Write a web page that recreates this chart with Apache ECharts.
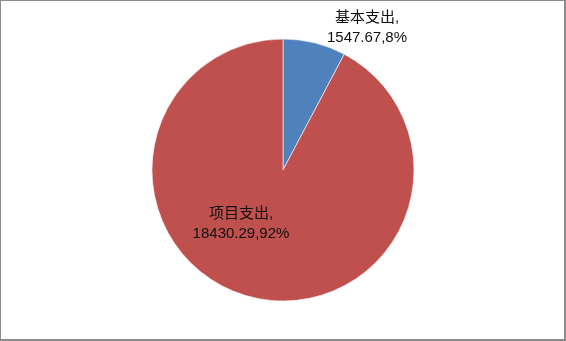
<!DOCTYPE html>
<html><head><meta charset="utf-8">
<script src="https://cdn.jsdelivr.net/npm/echarts@6/dist/echarts.min.js"></script>
<style>
html,body{margin:0;padding:0;background:#fff;}
#c{position:absolute;left:0;top:0;width:563px;height:338px;border-left:1px solid #8c8c8c;border-top:1px solid #8c8c8c;border-right:2px solid #8c8c8c;border-bottom:2px solid #8c8c8c;}
</style></head><body>
<div id="c"></div>
<script>
const categories = ['基本支出', '项目支出'];
const values = [1547.67, 18430.29];
const colors = ['#4F81BD', '#C0504D'];
const labelPos = [[366, 27], [240, 223]];

const chart = echarts.init(document.getElementById('c'), null, {renderer: 'canvas'});
chart.setOption({
  animation: false,
  series: [{
    type: 'pie',
    center: [282, 169],
    radius: [0, 131],
    startAngle: 90,
    clockwise: true,
    percentPrecision: 0,
    itemStyle: {borderColor: '#fff', borderWidth: 0.6},
    label: {
      formatter: '{b},\n{c},{d}%',
      fontFamily: 'Liberation Sans, Noto Sans CJK SC',
      fontSize: 15,
      lineHeight: 20,
      color: '#111',
      align: 'center'
    },
    labelLine: {show: false},
    labelLayout: function (p) {
      const pos = labelPos[p.dataIndex];
      return {x: pos[0], y: pos[1], align: 'center', verticalAlign: 'middle'};
    },
    data: categories.map((n, i) => ({
      name: n, value: values[i],
      itemStyle: {color: colors[i]},
      label: {position: i === 0 ? 'outside' : 'inside'}
    }))
  }]
});
</script>
</body></html>
